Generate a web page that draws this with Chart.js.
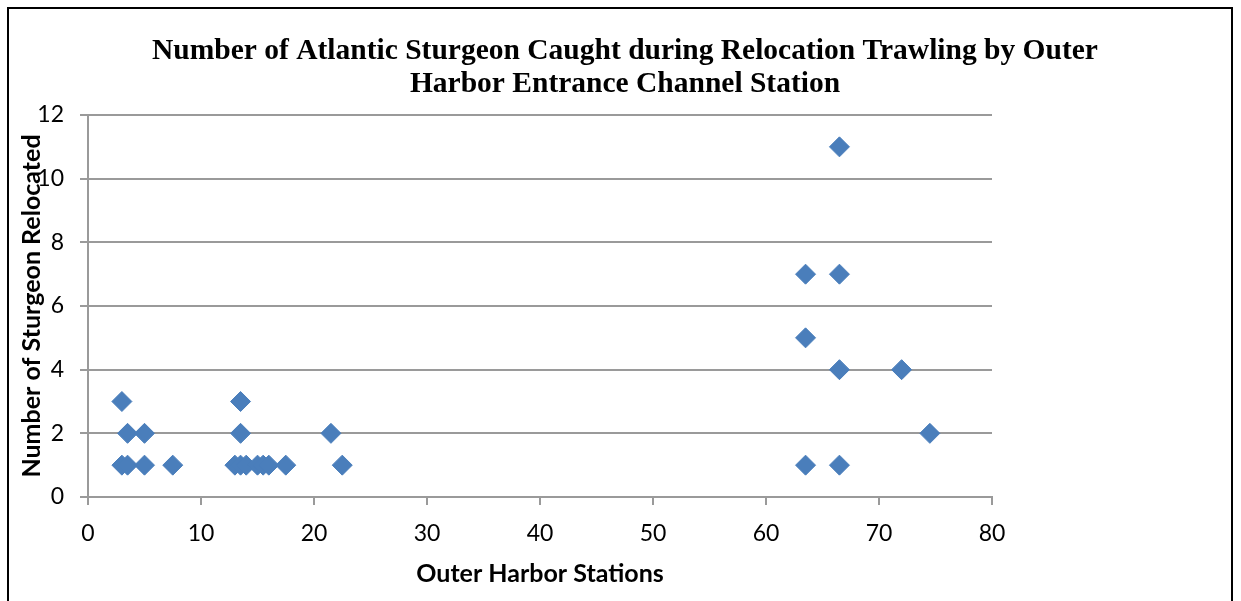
<!DOCTYPE html>
<html>
<head>
<meta charset="utf-8">
<script src="https://cdn.jsdelivr.net/npm/chart.js@4"></script>
<style>
  html, body { margin: 0; padding: 0; background: #fff; overflow: hidden; }
  #wrap { position: relative; width: 1241px; height: 601px; }
  #frame { position: absolute; left: 7px; top: 7px; width: 1222px; height: 700px; border: 2px solid #000; pointer-events: none; }
  canvas { position: absolute; left: 0; top: 0; }
</style>
</head>
<body>
<div id="wrap">
  <canvas id="chart" width="1241" height="601"></canvas>
  <div id="frame"></div>
</div>
<script>
const titleLines = ['Number of Atlantic Sturgeon Caught during Relocation Trawling by Outer', 'Harbor Entrance Channel Station']
const xTitle = 'Outer Harbor Stations'
const yTitle = 'Number of Sturgeon Relocated'

// station number and sturgeon count
const stations = [3, 3.5, 5, 7.5, 13, 13.5, 14, 15, 15.5, 16, 17.5, 22.5,
  3.5, 5, 13.5, 21.5,
  3, 13.5,
  63.5, 66.5, 74.5, 66.5, 72, 63.5, 63.5, 66.5, 66.5]
const counts = [1, 1, 1, 1, 1, 1, 1, 1, 1, 1, 1, 1,
  2, 2, 2, 2,
  3, 3,
  1, 1, 2, 4, 4, 5, 7, 7, 11]

const points = stations.map((s, i) => ({ x: s, y: counts[i] }))

const gridGray = '#9a9a9a'
const tickFont = { family: 'Lato', size: 23 }
const axisTitleFont = { family: 'Lato', size: 25, weight: 'bold' }

// center the title on the whole frame, not only the plot area
const moveTitle = {
  id: 'moveTitle',
  afterLayout(chart) {
    chart.titleBlock.left = 10
    chart.titleBlock.right = 1240
  }
}

new Chart(document.getElementById('chart'), {
  type: 'scatter',
  data: {
    datasets: [{
      data: points,
      pointStyle: 'rectRot',
      pointRadius: 10,
      pointHoverRadius: 10,
      backgroundColor: '#4A7EBB',
      borderColor: '#4A7EBB',
      borderWidth: 1
    }]
  },
  options: {
    responsive: false,
    animation: false,
    layout: { padding: { left: 10, right: 249, top: 10, bottom: 0 } },
    plugins: {
      legend: { display: false },
      tooltip: { enabled: false },
      title: {
        display: true,
        text: titleLines,
        color: '#000',
        font: { family: 'Liberation Serif', size: 29.5, weight: 'bold', lineHeight: 1.119 },
        padding: { top: 25, bottom: 14 }
      }
    },
    scales: {
      x: {
        type: 'linear',
        min: 0,
        max: 80,
        ticks: { stepSize: 10, color: '#000', font: tickFont, padding: 15 },
        grid: { drawOnChartArea: false, drawTicks: true, tickLength: 8, color: gridGray, lineWidth: 2 },
        border: { display: true, color: gridGray, width: 2 },
        title: { display: true, text: xTitle, color: '#000', font: axisTitleFont, padding: { top: 0, bottom: 12 } },
        afterFit: scale => { scale.height = 104 }
      },
      y: {
        min: 0,
        max: 12,
        ticks: { stepSize: 2, color: '#000', font: tickFont, padding: 16 },
        grid: { color: gridGray, lineWidth: 2, drawTicks: true, tickLength: 8 },
        border: { display: true, color: gridGray, width: 2 },
        title: { display: true, text: yTitle, color: '#000', font: axisTitleFont, padding: { top: 7, bottom: 0 } },
        afterFit: scale => { scale.width = 78 }
      }
    }
  },
  plugins: [moveTitle]
})
</script>
</body>
</html>
